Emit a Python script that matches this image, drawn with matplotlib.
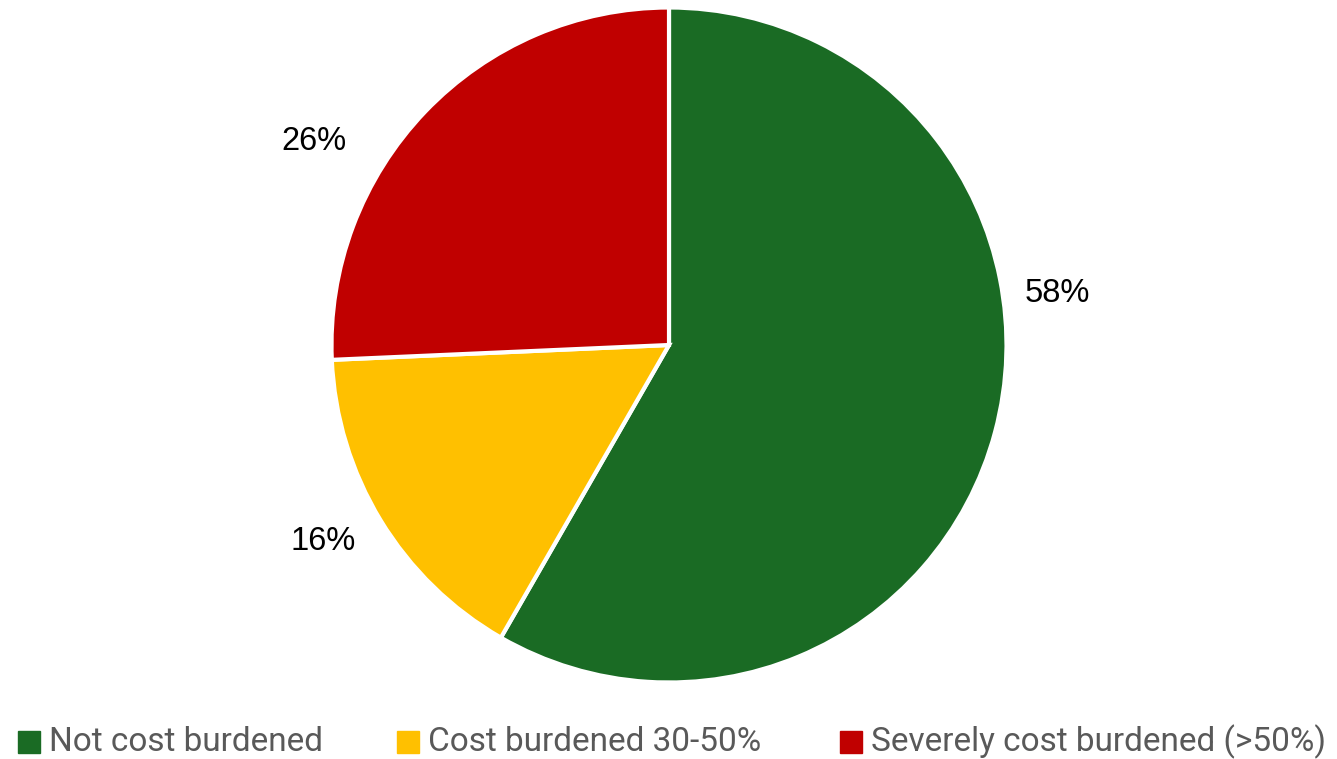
import matplotlib.pyplot as plt
from matplotlib.patches import Rectangle

categories = ['Not cost burdened', 'Cost burdened 30-50%', 'Severely cost burdened (>50%)']
shares = [58.3, 16.0, 25.7]
pct_labels = ['58%', '16%', '26%']
colors = ['#1A6B24', '#FFC000', '#C00000']

W, H = 1337, 759
fig = plt.figure(figsize=(W / 100, H / 100), dpi=100)
ax = fig.add_axes([0, 0, 1, 1])

cx, cy, r = 669, H - 345, 337.5
ax.pie(shares, colors=colors, startangle=90, counterclock=False,
       center=(cx, cy), radius=r, frame=True,
       wedgeprops=dict(edgecolor='white', linewidth=3))
ax.set_xlim(0, W)
ax.set_ylim(0, H)
ax.axis('off')

# data label positions (pixel, from top-left)
label_pos = [(1057, 294), (323, 541), (314, 141)]
for (x, y), t in zip(label_pos, pct_labels):
    ax.text(x, H - y, t, fontsize=23.5, family='Liberation Sans',
            color='black', ha='center', va='center')

# legend along the bottom
leg_x = [18, 397, 840]
leg_y = H - 742
for x, name, c in zip(leg_x, categories, colors):
    ax.add_patch(Rectangle((x, leg_y - 11), 22, 22, color=c))
    ax.text(x + 31, leg_y, name, fontsize=24, family='Roboto',
            color='#595959', ha='left', va='center')

fig.savefig('out.png', dpi=100)
